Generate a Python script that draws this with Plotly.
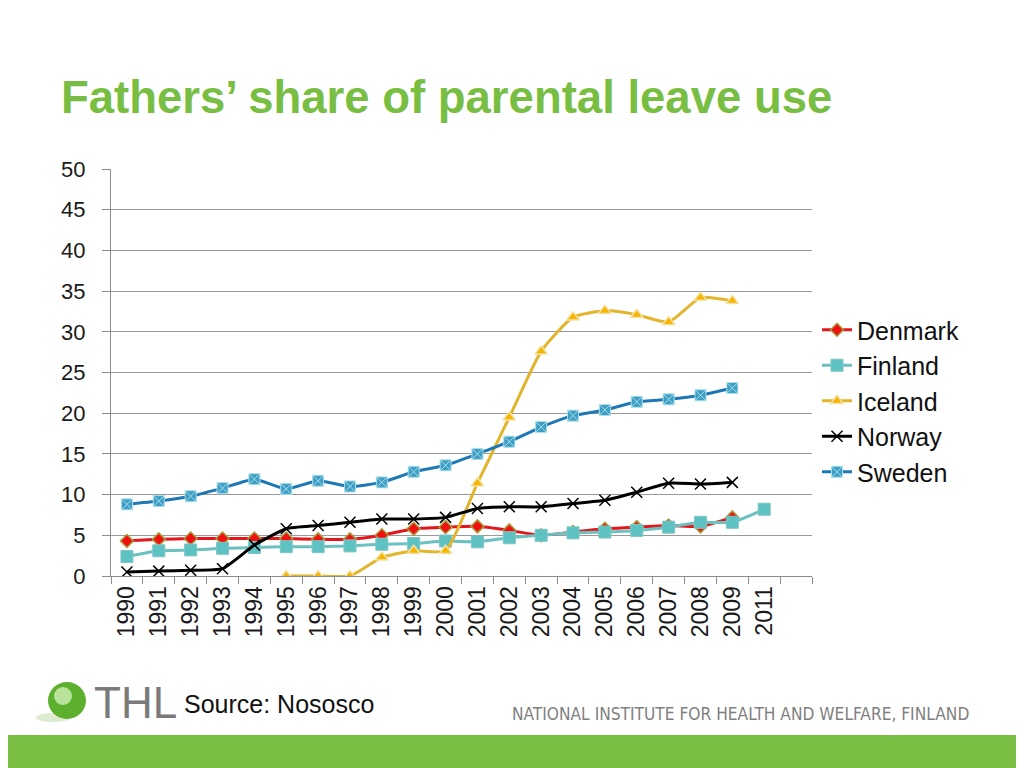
import plotly.graph_objects as go

# categories (Excel left an empty slot after 2011)
years = [str(y) for y in range(1990, 2010)] + ["2011", " "]

denmark = [4.3, 4.5, 4.6, 4.6, 4.6, 4.6, 4.5, 4.5, 5.0, 5.8, 6.0, 6.1, 5.6, 5.0,
           5.4, 5.8, 6.0, 6.2, 6.1, 7.2, None, None]
finland = [2.4, 3.1, 3.2, 3.4, 3.5, 3.6, 3.6, 3.7, 3.9, 4.0, 4.3, 4.2, 4.7, 5.0,
           5.3, 5.4, 5.6, 6.0, 6.6, 6.6, 8.2, None]
iceland = [None, None, None, None, None, 0.0, 0.0, 0.0, 2.3, 3.1, 3.1, 11.4, 19.5, 27.6,
           31.8, 32.6, 32.1, 31.2, 34.2, 33.8, None, None]
norway = [0.5, 0.6, 0.7, 0.9, 3.8, 5.8, 6.2, 6.6, 7.0, 7.0, 7.2, 8.3, 8.5, 8.5,
          8.9, 9.3, 10.3, 11.4, 11.3, 11.5, None, None]
sweden = [8.8, 9.2, 9.8, 10.8, 11.9, 10.7, 11.7, 11.0, 11.5, 12.8, 13.6, 15.0, 16.5, 18.3,
          19.7, 20.4, 21.4, 21.7, 22.2, 23.1, None, None]

GREEN = "#78BE43"
L, R, T, B = 111, 812, 169, 576  # plot area in screen pixels
PAGE_PAD = 8  # default body margin of the html page


def px_x(x):
    return (x - L) / (R - L)


def px_y(y):
    return (B - y) / (B - T)


fig = go.Figure()

series = [
    ("Denmark", denmark, "#E3161B", dict(symbol="diamond", size=10, color="#F01010",
                                         line=dict(color="#A89A3C", width=1.5))),
    ("Finland", finland, "#6BC0C0", dict(symbol="square", size=12, color="#5FC2C2",
                                         line=dict(color="#7FC4C4", width=1))),
    ("Iceland", iceland, "#E2B52C", dict(symbol="triangle-up", size=11, color="#F7B500",
                                         line=dict(color="#F2E2AA", width=1.5))),
    ("Norway", norway, "#000000", dict(symbol="x-thin", size=11, color="#000000",
                                       line=dict(color="#000000", width=1.5))),
    ("Sweden", sweden, "#1F78B6", dict(symbol="square-x", size=11, color="#3E9EC6",
                                       line=dict(color="#A8E0E8", width=1))),
]

for name, vals, lc, mk in series:
    fig.add_scatter(x=years, y=vals, name=name, mode="lines+markers",
                    line=dict(color=lc, width=3, shape="spline", smoothing=0.5),
                    marker=mk, connectgaps=False)

fig.update_xaxes(type="category", categoryorder="array", categoryarray=years,
                 range=[-0.5, len(years) - 0.5], tickson="boundaries",
                 ticks="outside", ticklen=7, tickcolor="#8C8C8C",
                 showgrid=False, showline=True, linecolor="#8C8C8C", linewidth=1,
                 tickangle=-90, tickfont=dict(family="Liberation Sans, Arial", size=23, color="#1A1A1A"))
fig.update_yaxes(range=[0, 50], dtick=5, ticks="outside", ticklen=8, tickcolor="#8C8C8C",
                 showgrid=True, gridcolor="#9A9A9A", gridwidth=1, ticklabelstandoff=12,
                 showline=True, linecolor="#8C8C8C", linewidth=1, zeroline=False,
                 tickfont=dict(family="Liberation Sans, Arial", size=22, color="#1A1A1A"))

fig.update_layout(
    width=1024 - PAGE_PAD, height=768 - PAGE_PAD,
    margin=dict(l=L - PAGE_PAD, r=1024 - R, t=T - PAGE_PAD, b=768 - B, pad=0),
    paper_bgcolor="white", plot_bgcolor="white",
    showlegend=True,
    legend=dict(x=px_x(817), y=px_y(307), xanchor="left", yanchor="top",
                font=dict(family="Liberation Sans, Arial", size=25, color="#111111"),
                itemwidth=30, bgcolor="rgba(0,0,0,0)", tracegroupgap=0),
    font=dict(family="Liberation Sans, Arial"),
)

# title
fig.add_annotation(text="<b>Fathers’ share of parental leave use</b>", xref="paper", yref="paper",
                   x=px_x(59), y=px_y(97), xanchor="left", yanchor="middle", showarrow=False,
                   font=dict(family="Liberation Sans, Arial", size=45.5, color=GREEN))

# footer: green band and logo
fig.add_shape(type="rect", xref="paper", yref="paper", x0=px_x(0), x1=px_x(1030),
              y0=px_y(775), y1=px_y(735), fillcolor=GREEN, line_width=0, layer="below")
fig.add_shape(type="circle", xref="paper", yref="paper", x0=px_x(36), x1=px_x(70),
              y0=px_y(722), y1=px_y(713), fillcolor="#DDEBD0", line_width=0)
fig.add_shape(type="circle", xref="paper", yref="paper", x0=px_x(48), x1=px_x(86),
              y0=px_y(719), y1=px_y(682), fillcolor="#5DB02E", line_width=0)
fig.add_shape(type="circle", xref="paper", yref="paper", x0=px_x(54), x1=px_x(72),
              y0=px_y(705), y1=px_y(687), fillcolor="#B9E39A", line_width=0)
fig.add_annotation(text="THL", xref="paper", yref="paper", x=px_x(92), y=px_y(702),
                   xanchor="left", yanchor="middle", showarrow=False,
                   font=dict(family="Liberation Sans Narrow, Liberation Sans", size=44, color="#7A7A7A"))
fig.add_annotation(text="Source: Nososco", xref="paper", yref="paper", x=px_x(182), y=px_y(704),
                   xanchor="left", yanchor="middle", showarrow=False,
                   font=dict(family="Liberation Sans, Arial", size=25, color="#111111"))
fig.add_annotation(text="NATIONAL INSTITUTE FOR HEALTH AND WELFARE, FINLAND", xref="paper", yref="paper",
                   x=px_x(510), y=px_y(714), xanchor="left", yanchor="middle", showarrow=False,
                   font=dict(family="DejaVu Sans Condensed, Liberation Sans Narrow", size=17.2, color="#7F7F7F"))

fig.write_html("out.html")
